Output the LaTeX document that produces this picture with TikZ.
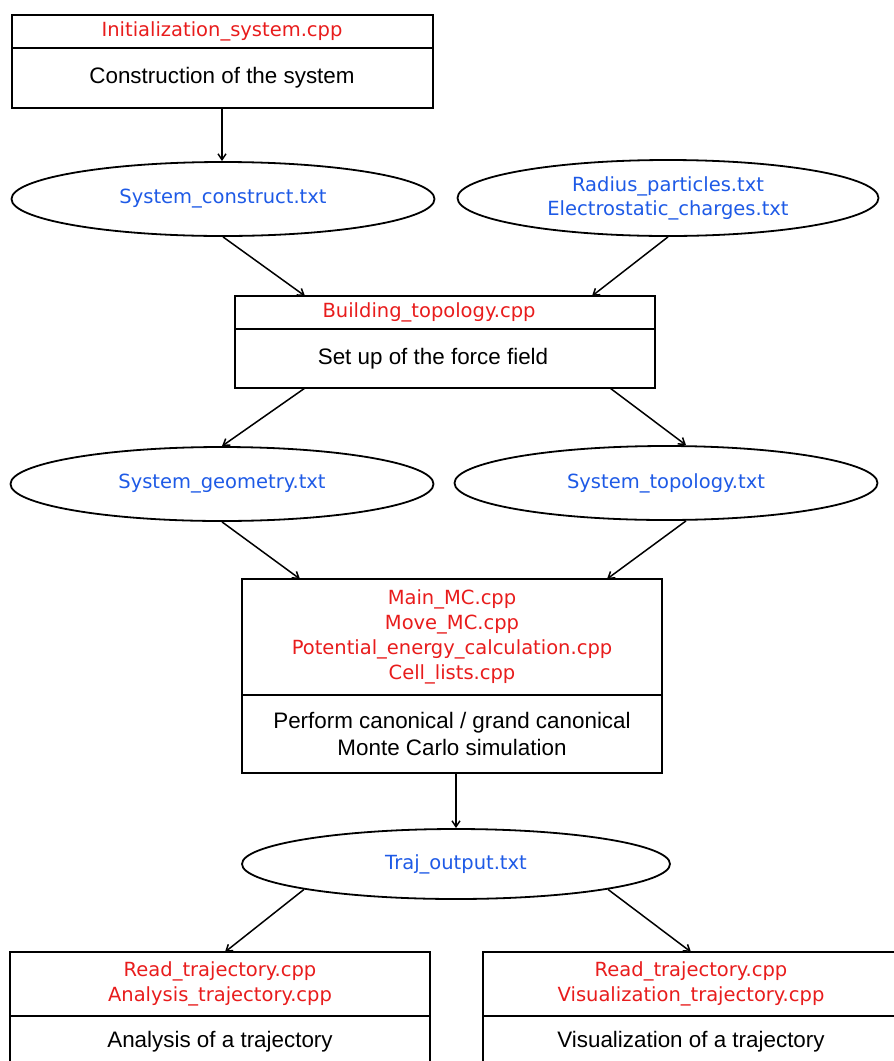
\documentclass[tikz,border=0pt]{standalone}
\usepackage{fontspec}
\setmainfont{Liberation Sans}
\newfontfamily\codefont{DejaVu Sans}
\usetikzlibrary{shapes.geometric,arrows.meta}
\definecolor{cppred}{RGB}{232,28,28}
\definecolor{txtblue}{RGB}{30,90,230}
\tikzset{
  cpp/.style={draw, line width=2pt, anchor=north, inner sep=0pt, outer sep=0pt, align=center,
    text=cppred, font=\codefont\fontsize{19.5}{25}\selectfont},
  task/.style={draw, line width=2pt, anchor=north, inner sep=0pt, outer sep=0pt, align=center,
    font=\fontsize{22.4}{27}\selectfont},
  data/.style={draw, ellipse, line width=1.8pt, inner sep=0pt, align=center,
    text=txtblue, font=\codefont\fontsize{19.5}{24}\selectfont},
  flow/.style={-{Straight Barb[length=6pt,width=8pt]}, line width=1.5pt}
}
\begin{document}
\begin{tikzpicture}[x=1pt,y=-1pt]
  \useasboundingbox (0,0) rectangle (894,1061);
  \clip (0,0) rectangle (894,1061);

  \node[cpp, minimum width=421pt, minimum height=33pt] (h1) at (222,15) {Initialization\_system.cpp};
  \node[task, minimum width=421pt, minimum height=60pt] (b1) at (h1.south) {Construction of the system};

  \node[data, minimum width=423pt, minimum height=74pt] (e1) at (223,199) {System\_construct.txt};
  \node[data, minimum width=421pt, minimum height=76pt] (e2) at (668,198) {Radius\_particles.txt\\Electrostatic\_charges.txt};

  \node[cpp, minimum width=420pt, minimum height=33pt] (h2) at (445,296) {\hspace*{-32pt}Building\_topology.cpp};
  \node[task, minimum width=420pt, minimum height=59pt] (b2) at (h2.south) {\hspace*{-24pt}Set up of the force field};

  \node[data, minimum width=423pt, minimum height=74pt] (e3) at (222,484) {System\_geometry.txt};
  \node[data, minimum width=423pt, minimum height=74pt] (e4) at (666,483) {System\_topology.txt};

  \node[cpp, minimum width=420pt, minimum height=116pt] (h3) at (452,579)
    {Main\_MC.cpp\\Move\_MC.cpp\\Potential\_energy\_calculation.cpp\\Cell\_lists.cpp};
  \node[task, minimum width=420pt, minimum height=78pt] (b3) at (h3.south)
    {Perform canonical / grand canonical\\Monte Carlo simulation};

  \node[data, minimum width=428pt, minimum height=70pt] (e5) at (456,864) {Traj\_output.txt};

  \node[cpp, minimum width=420pt, minimum height=64pt] (h4) at (220,952) {Read\_trajectory.cpp\\Analysis\_trajectory.cpp};
  \node[task, minimum width=420pt, minimum height=52pt] (b4) at (h4.south) {Analysis of a trajectory};
  \node[cpp, minimum width=416pt, minimum height=64pt] (h5) at (691,952) {Read\_trajectory.cpp\\Visualization\_trajectory.cpp};
  \node[task, minimum width=416pt, minimum height=52pt] (b5) at (h5.south) {Visualization of a trajectory};

  \draw[flow] (b1.south) -- (b1.south |- e1.north);
  \draw[flow] (e1.south) -- ([xshift=70pt]h2.north west);
  \draw[flow] (e2.south) -- ([xshift=-63pt]h2.north east);
  \draw[flow] ([xshift=70pt]b2.south west) -- (e3.north);
  \draw[flow] ([xshift=-45pt]b2.south east) -- ([xshift=20pt]e4.north);
  \draw[flow] (e3.south) -- ([xshift=58pt]h3.north west);
  \draw[flow] ([xshift=20pt]e4.south) -- ([xshift=-55pt]h3.north east);
  \draw[flow] (b3.south -| e5.north) -- (e5.north);
  \draw[flow] (e5.south west) -- ([xshift=5pt]h4.north);
  \draw[flow] (e5.south east) -- (h5.north);
\end{tikzpicture}
\end{document}
